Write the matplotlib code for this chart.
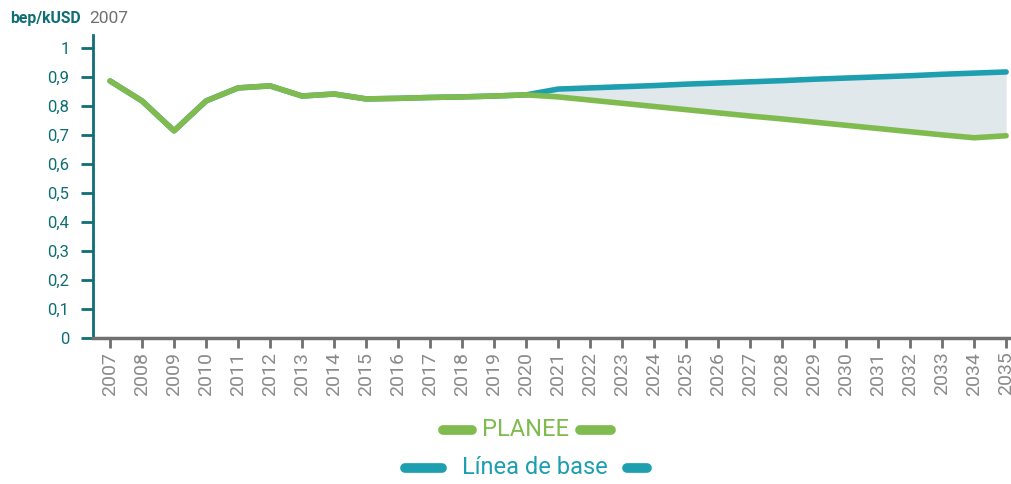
import matplotlib.pyplot as plt
from matplotlib.lines import Line2D
import numpy as np

plt.rcParams['font.family'] = ['Roboto', 'DejaVu Sans']

years = np.arange(2007, 2036)

# historic intensity, shared by both series up to 2020
historic = [0.886, 0.817, 0.714, 0.817, 0.862, 0.869, 0.834, 0.841,
            0.824, 0.826, 0.829, 0.831, 0.834, 0.838]
base_future = [0.858, 0.862, 0.866, 0.870, 0.875, 0.879, 0.883, 0.887,
               0.892, 0.896, 0.900, 0.904, 0.909, 0.913, 0.917]
planee_future = [0.831, 0.820, 0.809, 0.798, 0.787, 0.776, 0.765, 0.755,
                 0.744, 0.733, 0.722, 0.711, 0.700, 0.690, 0.697]

base = np.array(historic + base_future)
planee = np.array(historic + planee_future)

GREEN = '#80bb50'
TEAL = '#1d9fb0'
DARK_TEAL = '#0f6e76'
GREY = '#707070'

fig = plt.figure(figsize=(10.12, 4.84), dpi=100)
ax = fig.add_axes([0.092, 0.302, 0.906, 0.626])

proj = years >= 2020
ax.fill_between(years[proj], planee[proj], base[proj], color='#e1e8ec', lw=0)
ax.plot(years, base, color=TEAL, lw=4, solid_capstyle='round', solid_joinstyle='round')
ax.plot(years, planee, color=GREEN, lw=4, solid_capstyle='round', solid_joinstyle='round')

ax.set_xlim(2006.47, 2035.12)
ax.set_ylim(0, 1.045)
ax.set_yticks(np.arange(0, 1.01, 0.1))
ax.set_yticklabels(['0'] + [f'0,{i}' for i in range(1, 10)] + ['1'])
ax.set_xticks(years)
ax.set_xticklabels([str(y) for y in years], rotation=90)

for s in ('top', 'right'):
    ax.spines[s].set_visible(False)
ax.spines['left'].set_color(DARK_TEAL)
ax.spines['left'].set_linewidth(2)
ax.spines['bottom'].set_color(GREY)
ax.spines['bottom'].set_linewidth(2.5)
ax.tick_params(axis='y', colors=DARK_TEAL, length=9, width=2, labelsize=12, pad=8)
ax.tick_params(axis='x', colors=GREY, length=7, width=2, labelsize=14, pad=3)
ax.tick_params(axis='x', labelcolor='#8a8a8a')

fig.text(0.010, 0.962, 'bep/kUSD', color=DARK_TEAL, fontsize=11.3, fontweight='bold',
         va='center')
fig.text(0.088, 0.962, '2007', color=GREY, fontsize=12.5, va='center')

# legend: label flanked by two short dashes
def legend_row(y, label, color, x0, x1, x2, x3):
    fig.text((x1 + x2) / 2 / 1012, y, label, color=color, fontsize=17,
             ha='center', va='center')
    for a, b in ((x0, x1 - 14), (x2 + 14, x3)):
        fig.add_artist(Line2D([a / 1012, b / 1012], [y, y], color=color, lw=7,
                              solid_capstyle='round', transform=fig.transFigure))

legend_row(1 - 430 / 484, 'PLANEE', GREEN, 443, 486, 566, 611)
legend_row(1 - 468 / 484, 'Línea de base', TEAL, 405, 456, 613, 647)

fig.savefig('out.png', dpi=100)
